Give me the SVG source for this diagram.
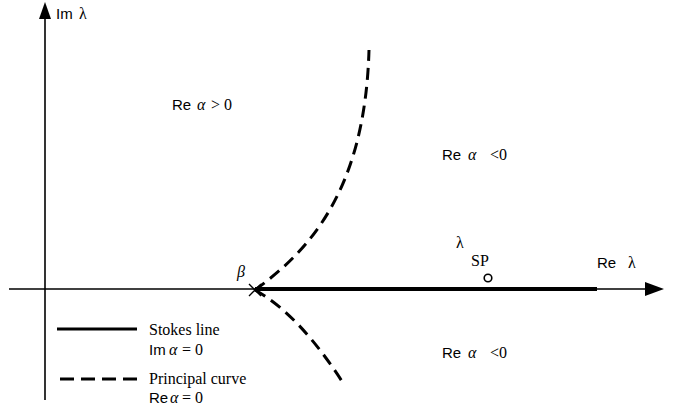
<svg xmlns="http://www.w3.org/2000/svg" width="673" height="414" viewBox="0 0 673 414">
<style>
.axis{stroke:#000;stroke-width:1.6;fill:none}
.stokes{stroke:#000;stroke-width:4;fill:none}
.dash{stroke:#000;stroke-width:3;fill:none;stroke-dasharray:12 7}
.sans{font-family:"Liberation Sans",Arial,sans-serif;font-size:15px;fill:#000}
.serif{font-family:"Liberation Serif","Times New Roman",serif;font-size:16px;fill:#000}
.it{font-style:italic}
</style>
<rect width="673" height="414" fill="#fff"/>
<g id="connectors">
  <line class="axis" x1="45" y1="400" x2="45" y2="14"/>
  <polygon points="45,2 39,19 51,19" fill="#000"/>
  <line class="axis" x1="9" y1="289" x2="650" y2="289"/>
  <polygon points="664,289 645,282 645,296" fill="#000"/>
  <line class="stokes" x1="255" y1="289" x2="597" y2="289"/>
  <path class="dash" d="M255,290 C310,250 365,190 369,50"/>
  <path class="dash" d="M255,290 Q300,315 345,386"/>
  <path d="M249,284 L261,296 M249,296 L261,284" stroke="#000" stroke-width="1.4"/>
</g>
<g id="axis-labels">
  <text y="19"><tspan class="sans" x="56">Im</tspan><tspan class="serif" x="79">λ</tspan></text>
  <text y="268"><tspan class="sans" x="597">Re</tspan><tspan class="serif" x="628">λ</tspan></text>
</g>
<g id="beta"><text class="serif it" x="237" y="277" font-size="17">β</text></g>
<g id="saddle">
  <text class="serif" x="456" y="248">λ</text>
  <text class="serif" x="471" y="266">SP</text>
  <circle cx="488" cy="278" r="3.8" fill="#fff" stroke="#000" stroke-width="1.6"/>
</g>
<g id="region-upper-left"><text y="110"><tspan class="sans" x="172">Re</tspan><tspan class="serif it" x="197">α</tspan><tspan class="serif" x="211">&gt;</tspan><tspan class="serif" x="224">0</tspan></text></g>
<g id="region-upper-right"><text y="160"><tspan class="sans" x="442">Re</tspan><tspan class="serif it" x="468">α</tspan><tspan class="serif" x="490">&lt;0</tspan></text></g>
<g id="region-lower-right"><text y="358"><tspan class="sans" x="442">Re</tspan><tspan class="serif it" x="468">α</tspan><tspan class="serif" x="490">&lt;0</tspan></text></g>
<g id="legend">
  <line x1="57" y1="329" x2="137" y2="329" stroke="#000" stroke-width="3"/>
  <text class="serif" x="149" y="335">Stokes line</text>
  <text y="355"><tspan class="sans" x="149">Im</tspan><tspan class="serif it" x="169">α</tspan><tspan class="serif" x="182">= 0</tspan></text>
  <line x1="60" y1="379" x2="137" y2="379" stroke="#000" stroke-width="3" stroke-dasharray="14 7"/>
  <text class="serif" x="149" y="384">Principal curve</text>
  <text y="403"><tspan class="sans" x="149">Re</tspan><tspan class="serif it" x="170">α</tspan><tspan class="serif" x="182">= 0</tspan></text>
</g>
</svg>
